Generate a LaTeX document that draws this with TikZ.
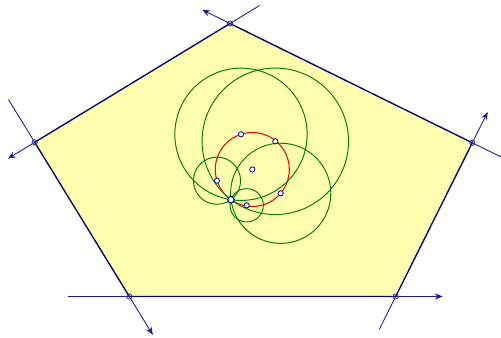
\documentclass[tikz,border=0pt]{standalone}
\usetikzlibrary{calc,arrows.meta}
\definecolor{padfill}{RGB}{255,255,175}
\definecolor{padedge}{RGB}{10,10,110}
\definecolor{extline}{RGB}{30,30,150}
\definecolor{circgreen}{RGB}{0,128,0}
\definecolor{ptblue}{RGB}{20,20,170}
\tikzset{
	extarrow/.style={extline,line width=0.5pt,-{Stealth[length=4.5pt,width=3.6pt]}},
	extseg/.style={extline,line width=0.5pt},
	ptmark/.style={fill=white,draw=ptblue,line width=0.5pt},
	vxmark/.style={draw=ptblue!70!gray,line width=0.5pt}
}
\begin{document}
\begin{tikzpicture}[x=0.02cm,y=-0.02cm,line cap=round]
				\useasboundingbox (0,0) rectangle (501,338);
				% the pentagon
				\coordinate (A) at (230,23.5);
				\coordinate (B) at (34.7,142.3);
				\coordinate (C) at (129.3,296.5);
				\coordinate (D) at (395.7,296.5);
				\coordinate (E) at (472.3,142.8);
				\filldraw[fill=padfill,draw=padedge,line width=0.8pt] (A) -- (B) -- (C) -- (D) -- (E) -- cycle;
				% the sides carried on past each vertex
				\draw[extarrow] (A) -- ($(A)!-0.62cm!(E)$);
				\draw[extseg] (A) -- ($(A)!-0.69cm!(B)$);
				\draw[extarrow] (B) -- ($(B)!-0.63cm!(A)$);
				\draw[extseg] (B) -- ($(B)!-1.0cm!(C)$);
				\draw[extarrow] (C) -- ($(C)!-0.9cm!(B)$);
				\draw[extseg] (C) -- ($(C)!-1.22cm!(D)$);
				\draw[extarrow] (D) -- ($(D)!-0.94cm!(C)$);
				\draw[extseg] (D) -- ($(D)!-0.73cm!(E)$);
				\draw[extarrow] (E) -- ($(E)!-0.69cm!(D)$);
				\draw[extseg] (E) -- ($(E)!-0.7cm!(A)$);
				% the red circle and the common point
				\coordinate (O) at (252.3,169.5);
				\coordinate (P) at (231,199.7);
				\draw[red,line width=0.6pt] (O) circle (37);
				% centres on the red circle, each green circle through P
				\coordinate (M1) at (241,134.3);
				\coordinate (M2) at (275.3,141.3);
				\coordinate (M3) at (280.7,193.3);
				\coordinate (M4) at (217,180.7);
				\coordinate (M5) at (246.7,205.3);
				\foreach \m in {M1,M2,M3,M4,M5}
					\draw[circgreen,line width=0.55pt] let \p1=($(P)-(\m)$), \n1={veclen(\x1,\y1)} in (\m) circle (\n1);
				% the marked points
				\foreach \m in {M1,M2,M3,M4,M5,O}
					\filldraw[ptmark] (\m) circle (2.6);
				\filldraw[ptmark,line width=0.7pt] (P) circle (3.2);
				\foreach \v in {A,B,C,D,E}
					\draw[vxmark] (\v) circle (2.6);
			\end{tikzpicture}
\end{document}
